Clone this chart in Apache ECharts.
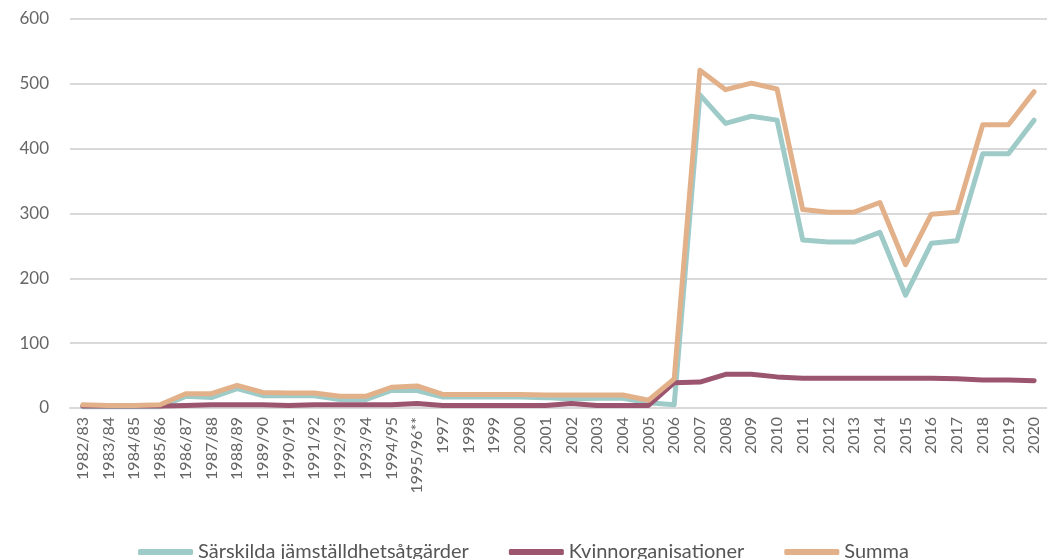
<!DOCTYPE html>
<html>
<head>
<meta charset="utf-8">
<script src="https://cdn.jsdelivr.net/npm/echarts@6/dist/echarts.min.js"></script>
<style>
  html, body { margin: 0; padding: 0; background: #fff; }
  #main { width: 1047px; height: 559px; }
</style>
</head>
<body>
<div id="main"></div>
<script>
var years = ['1982/83', '1983/84', '1984/85', '1985/86', '1986/87', '1987/88', '1988/89', '1989/90',
    '1990/91', '1991/92', '1992/93', '1993/94', '1994/95', '1995/96**', '1997', '1998', '1999',
    '2000', '2001', '2002', '2003', '2004', '2005', '2006', '2007', '2008', '2009', '2010', '2011',
    '2012', '2013', '2014', '2015', '2016', '2017', '2018', '2019', '2020'];

var sarskilda = [2, 2, 2, 2, 18, 16, 30, 19, 19, 19, 13, 13, 27, 27, 17, 17, 17, 17, 16, 14, 15, 15, 8, 5,
    483, 439, 450, 444, 259, 256, 256, 271, 174, 254, 258, 392, 392, 444];
var kvinnorg = [3, 3, 3, 3, 4, 5, 5, 5, 4, 5, 5, 5, 5, 7, 4, 4, 4, 4, 4, 7, 4, 4, 4, 39,
    40, 52, 52, 48, 46, 46, 46, 46, 46, 46, 45, 43, 43, 42];
var summa = [5, 4, 4, 5, 22, 22, 35, 24, 23, 23, 18, 18, 32, 34, 21, 21, 21, 21, 20, 20, 20, 20, 12, 45,
    521, 491, 501, 492, 306, 302, 302, 317, 221, 299, 302, 437, 437, 488];

var yTicks = [0, 100, 200, 300, 400, 500, 600];

var chart = echarts.init(document.getElementById('main'));

function line(name, data, color, z) {
    return {
        name: name,
        type: 'line',
        data: data,
        z: z,
        symbol: 'none',
        lineStyle: { width: 5, color: color, cap: 'round', join: 'round' },
        itemStyle: { color: color }
    };
}

var option = {
    animation: false,
    textStyle: { fontFamily: 'Lato, "Open Sans", sans-serif' },
    grid: { left: 70, right: -6, top: 19, bottom: 151 },
    legend: {
        bottom: -8,
        left: 'center',
        itemWidth: 55,
        itemHeight: 6,
        itemGap: 40,
        icon: 'roundRect',
        textStyle: { fontSize: 20, color: '#555' },
        data: ['Särskilda jämställdhetsåtgärder', 'Kvinnorganisationer', 'Summa']
    },
    xAxis: {
        type: 'category',
        data: years,
        boundaryGap: true,
        axisLine: { lineStyle: { color: '#d9d9d9', width: 2 } },
        axisTick: { show: false },
        axisLabel: { rotate: 90, interval: 0, fontSize: 16, color: '#666', margin: 9 }
    },
    yAxis: {
        type: 'value',
        min: yTicks[0],
        max: yTicks[yTicks.length - 1],
        interval: 100,
        axisLine: { show: false },
        axisTick: { show: false },
        axisLabel: { fontSize: 17, color: '#666', margin: 21 },
        splitLine: { lineStyle: { color: '#d9d9d9', width: 2 } }
    },
    series: [
        line('Särskilda jämställdhetsåtgärder', sarskilda, '#9ecbc8', 2),
        line('Kvinnorganisationer', kvinnorg, '#9c556f', 2),
        line('Summa', summa, '#e2b18a', 3)
    ]
};

chart.setOption(option);
</script>
</body>
</html>
